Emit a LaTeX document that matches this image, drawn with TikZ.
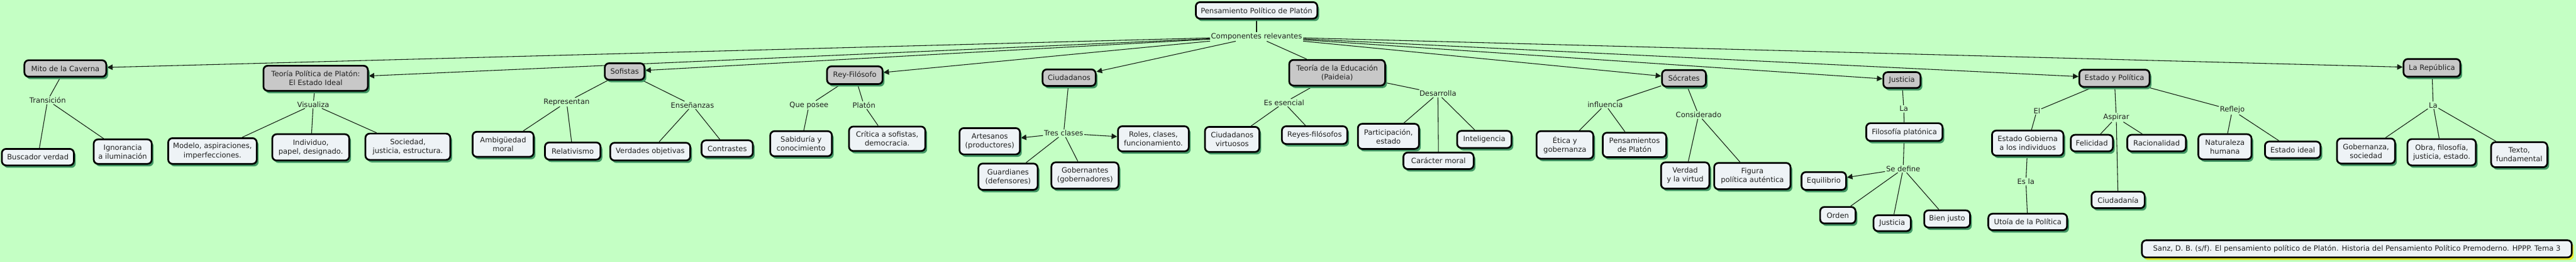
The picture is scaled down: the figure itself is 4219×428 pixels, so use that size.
\documentclass[tikz,border=0pt]{standalone}
\usepackage{fontspec}
\setmainfont{DejaVu Sans}
\usetikzlibrary{arrows.meta,shadows}
\definecolor{bgc}{RGB}{196,255,196}
\definecolor{greyfill}{RGB}{200,200,200}
\definecolor{leaffill}{RGB}{238,243,246}
\definecolor{shadowg}{RGB}{65,150,100}
\definecolor{linec}{RGB}{20,30,20}
\definecolor{textc}{RGB}{30,30,30}
\pgfdeclarelayer{back}
\pgfdeclarelayer{edges}
\pgfsetlayers{back,edges,main}
\begin{document}
\begin{tikzpicture}[x=1pt,y=-1pt,
  font=\fontsize{11.9}{14.5}\selectfont,
  concept/.style={draw=black, line width=2.8pt, rounded corners=7pt, align=center, inner sep=2pt, text=textc,
    drop shadow={shadow xshift=3pt,shadow yshift=-4pt,fill=shadowg,opacity=1}},
  topic/.style={concept, fill=greyfill},
  leaf/.style={concept, fill=leaffill},
  lbl/.style={inner sep=1.5pt, text=textc},
  conn/.style={draw=linec, line width=1.1pt},
  arr/.style={conn, -{Triangle[length=9pt,width=9pt]}}
]
\begin{pgfonlayer}{back}
\fill[bgc] (0,0) rectangle (4219,428);
\end{pgfonlayer}
\useasboundingbox (0,0) rectangle (4219,428);

% root
\node[leaf, minimum width=199, minimum height=27] (pens) at (2058,17) {Pensamiento Político de Platón};
\node[lbl] (comp) at (2058,60) {Componentes relevantes};

% Mito
\node[topic, minimum width=134, minimum height=27] (mito) at (107,112) {Mito de la Caverna};
\node[lbl] (trans) at (78,164) {Transición};
\node[leaf, minimum width=118, minimum height=27] (busc) at (62,257) {Buscador verdad};
\node[leaf, minimum width=95, minimum height=40] (ignor) at (201,248) {Ignorancia\\a iluminación};

% Teoria politica
\node[topic, minimum width=171, minimum height=41] (tpol) at (517,128) {Teoría Política de Platón:\\El Estado Ideal};
\node[lbl] (visu) at (513,171) {Visualiza};
\node[leaf, minimum width=145, minimum height=42] (modelo) at (348,247) {Modelo, aspiraciones,\\imperfecciones.};
\node[leaf, minimum width=126, minimum height=43] (indiv) at (509,241) {Individuo,\\papel, designado.};
\node[leaf, minimum width=139, minimum height=43] (socie) at (668,240) {Sociedad,\\justicia, estructura.};

% Sofistas
\node[topic, minimum width=65, minimum height=27] (sof) at (1023,117) {Sofistas};
\node[lbl] (repr) at (928,167) {Representan};
\node[lbl] (ense) at (1134,172) {Enseñanzas};
\node[leaf, minimum width=100, minimum height=41] (ambig) at (824,236) {Ambigüedad\\moral};
\node[leaf, minimum width=91, minimum height=28] (relat) at (938,247) {Relativismo};
\node[leaf, minimum width=131, minimum height=29] (verd) at (1065,248) {Verdades objetivas};
\node[leaf, minimum width=84, minimum height=27] (contr) at (1191,243) {Contrastes};

% Rey-Filosofo
\node[topic, minimum width=91, minimum height=29] (rey) at (1400,123) {Rey-Filósofo};
\node[lbl] (quep) at (1325,172) {Que posee};
\node[lbl] (plat) at (1415,172) {Platón};
\node[leaf, minimum width=101, minimum height=41] (sabid) at (1312,235) {Sabiduría y\\conocimiento};
\node[leaf, minimum width=125, minimum height=40] (crit) at (1453,227) {Crítica a sofistas,\\democracia.};

% Ciudadanos
\node[topic, minimum width=87, minimum height=27] (ciud) at (1751,127) {Ciudadanos};
\node[lbl] (tres) at (1742,218) {Tres clases};
\node[leaf, minimum width=99, minimum height=43] (artes) at (1621,231) {Artesanos\\(productores)};
\node[leaf, minimum width=97, minimum height=43] (guard) at (1651,289) {Guardianes\\(defensores)};
\node[leaf, minimum width=110, minimum height=43] (gobern) at (1777,287) {Gobernantes\\(gobernadores)};
\node[leaf, minimum width=116, minimum height=41] (roles) at (1889,227) {Roles, clases,\\funcionamiento.};

% Educacion
\node[topic, minimum width=157, minimum height=42] (tedu) at (2190,119) {Teoría de la Educación\\(Paideia)};
\node[lbl] (esen) at (2103,168) {Es esencial};
\node[lbl] (desa) at (2355,153) {Desarrolla};
\node[leaf, minimum width=89, minimum height=41] (cvirt) at (2018,228) {Ciudadanos\\virtuosos};
\node[leaf, minimum width=107, minimum height=29] (reyes) at (2153,221) {Reyes-filósofos};
\node[leaf, minimum width=100, minimum height=41] (partic) at (2274,223) {Participación,\\estado};
\node[leaf, minimum width=115, minimum height=27] (carac) at (2356,263) {Carácter moral};
\node[leaf, minimum width=89, minimum height=28] (intel) at (2431,228) {Inteligencia};

% Socrates
\node[topic, minimum width=72, minimum height=27] (soc) at (2758,128) {Sócrates};
\node[lbl] (influ) at (2629,171) {influencia};
\node[lbl] (consi) at (2782,188) {Considerado};
\node[leaf, minimum width=93, minimum height=45] (etica) at (2563,237) {Ética y\\gobernanza};
\node[leaf, minimum width=104, minimum height=40] (pplat) at (2677,237) {Pensamientos\\de Platón};
\node[leaf, minimum width=79, minimum height=43] (verdad) at (2760,287) {Verdad\\y la virtud};
\node[leaf, minimum width=125, minimum height=43] (figura) at (2870,288) {Figura\\política auténtica};

% Justicia
\node[topic, minimum width=61, minimum height=26] (just) at (3115,131) {Justicia};
\node[lbl] (la1) at (3118,178) {La};
\node[leaf, minimum width=125, minimum height=29] (filos) at (3119,216) {Filosofía platónica};
\node[lbl] (sedef) at (3117,276) {Se define};
\node[leaf, minimum width=73, minimum height=29] (equil) at (2987,296) {Equilibrio};
\node[leaf, minimum width=58, minimum height=27] (orden) at (3010,352) {Orden};
\node[leaf, minimum width=61, minimum height=26] (justl) at (3099,365) {Justicia};
\node[leaf, minimum width=75, minimum height=28] (bienj) at (3189,358) {Bien justo};

% Estado y Politica
\node[topic, minimum width=115, minimum height=28] (estpol) at (3463,128) {Estado y Política};
\node[lbl] (el) at (3336,181) {El};
\node[lbl] (aspi) at (3466,192) {Aspirar};
\node[lbl] (refl) at (3656,180) {Reflejo};
\node[leaf, minimum width=117, minimum height=41] (estgob) at (3321,234) {Estado Gobierna\\a los individuos};
\node[lbl] (esla) at (3318,297) {Es la};
\node[leaf, minimum width=129, minimum height=27] (utoia) at (3321,363) {Utoía de la Política};
\node[leaf, minimum width=69, minimum height=27] (felic) at (3426,234) {Felicidad};
\node[leaf, minimum width=96, minimum height=27] (racio) at (3532,234) {Racionalidad};
\node[leaf, minimum width=87, minimum height=27] (ciuda) at (3469,327) {Ciudadanía};
\node[leaf, minimum width=87, minimum height=41] (natur) at (3644,240) {Naturaleza\\humana};
\node[leaf, minimum width=91, minimum height=27] (estid) at (3755,245) {Estado ideal};

% Republica
\node[topic, minimum width=93, minimum height=29] (rep) at (3983,111) {La República};
\node[lbl] (la2) at (3985,172) {La};
\node[leaf, minimum width=95, minimum height=41] (gobza) at (3875,247) {Gobernanza,\\sociedad};
\node[leaf, minimum width=112, minimum height=43] (obra) at (3999,249) {Obra, filosofía,\\justicia, estado.};
\node[leaf, minimum width=92, minimum height=41] (texto) at (4126,253) {Texto,\\fundamental};

% Citation
\node[concept, fill=leaffill, drop shadow={shadow xshift=3pt,shadow yshift=-4pt,fill=yellow!80!bgc,opacity=1},
  minimum width=704, minimum height=28] (cita) at (3860,407)
  {Sanz, D. B. (s/f). El pensamiento político de Platón. Historia del Pensamiento Político Premoderno. HPPP. Tema 3};

\begin{pgfonlayer}{edges}
\draw[conn] (pens) -- (comp);
\foreach \t in {mito,tpol,sof,rey,ciud,soc,just,estpol,rep} \draw[arr] (comp) -- (\t);
\draw[conn] (comp) -- (tedu);

\draw[conn] (mito) -- (trans) (trans) -- (busc) (trans) -- (ignor);
\draw[conn] (tpol) -- (visu) (visu) -- (modelo) (visu) -- (indiv) (visu) -- (socie);
\draw[conn] (sof) -- (repr) (repr) -- (ambig) (repr) -- (relat);
\draw[conn] (sof) -- (ense) (ense) -- (verd) (ense) -- (contr);
\draw[conn] (rey) -- (quep) (quep) -- (sabid) (rey) -- (plat) (plat) -- (crit);
\draw[conn] (ciud) -- (tres) (tres) -- (guard) (tres) -- (gobern);
\draw[arr] (tres) -- (artes);
\draw[arr] (tres) -- (roles);
\draw[conn] (tedu) -- (esen) (esen) -- (cvirt) (esen) -- (reyes);
\draw[conn] (tedu) -- (desa) (desa) -- (partic) (desa) -- (carac) (desa) -- (intel);
\draw[conn] (soc) -- (influ) (influ) -- (etica) (influ) -- (pplat);
\draw[conn] (soc) -- (consi) (consi) -- (verdad) (consi) -- (figura);
\draw[conn] (just) -- (la1) (la1) -- (filos) (filos) -- (sedef);
\draw[conn] (sedef) -- (orden) (sedef) -- (justl) (sedef) -- (bienj);
\draw[arr] (sedef) -- (equil);
\draw[conn] (estpol) -- (el) (el) -- (estgob) (estgob) -- (esla) (esla) -- (utoia);
\draw[conn] (estpol) -- (aspi) (aspi) -- (felic) (aspi) -- (racio) (aspi) -- (ciuda);
\draw[conn] (estpol) -- (refl) (refl) -- (natur) (refl) -- (estid);
\draw[conn] (rep) -- (la2) (la2) -- (gobza) (la2) -- (obra) (la2) -- (texto);
\end{pgfonlayer}
\end{tikzpicture}
\end{document}
